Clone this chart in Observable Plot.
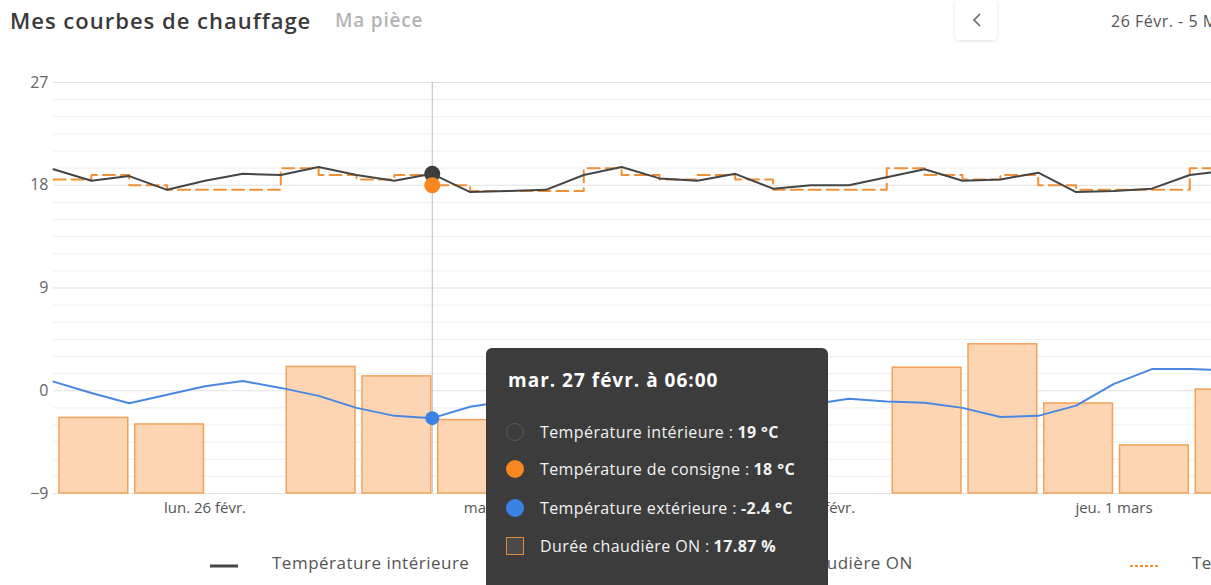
<!DOCTYPE html>
<html><head><meta charset="utf-8">
<script src="https://cdn.jsdelivr.net/npm/d3@7"></script>
<script src="https://cdn.jsdelivr.net/npm/@observablehq/plot@0.6"></script>
<style>
html,body{margin:0;padding:0;background:#fff;overflow:hidden;width:1211px;height:585px;}
body{position:relative;font-family:"Open Sans",sans-serif;}
#title{position:absolute;left:10px;top:5px;font-size:22px;font-weight:600;color:#3a3a3a;white-space:nowrap;letter-spacing:1px;}
#title span{position:absolute;left:325px;top:2px;color:#b3b3b3;font-size:19px;letter-spacing:0.8px;}
#btn{position:absolute;left:955px;top:0px;width:42px;height:40px;background:#fff;border-radius:4px;box-shadow:0 1px 4px rgba(0,0,0,0.12);}
#range{position:absolute;left:1111px;top:10px;font-size:16px;color:#555;white-space:nowrap;letter-spacing:0.5px;}
#chart{position:absolute;left:0;top:62px;}
#chart svg{max-width:none !important;}
#tip{position:absolute;left:486px;top:348px;width:342px;height:260px;background:#3c3c3c;border-radius:6px;color:#f2f2f2;}
#tip .h{position:absolute;left:22px;top:19px;font-size:19px;font-weight:700;color:#fff;white-space:nowrap;letter-spacing:1px;}
#tip .row{position:absolute;left:20px;height:22px;font-size:16px;white-space:nowrap;display:flex;align-items:center;letter-spacing:0.4px;}
#tip .row i{display:inline-block;width:18px;height:18px;border-radius:50%;margin-right:16px;box-sizing:border-box;}
#tip .row b{font-weight:700;margin-left:4px;}
.leg{position:absolute;top:549px;font-size:17px;color:#555;white-space:nowrap;display:flex;align-items:center;height:26px;letter-spacing:0.5px;}
.leg .sym{display:inline-block;width:28px;margin-right:34px;}
</style>
</head><body>
<div id="title">Mes courbes de chauffage<span>Ma pièce</span></div>
<div id="btn"><svg width="42" height="40"><polyline points="25,14 19,20 25,26" fill="none" stroke="#666" stroke-width="1.6"/></svg></div>
<div id="range">26 Févr. - 5 Mars</div>
<div id="chart"></div>
<div id="legend"></div>
<div id="tip"></div>
<script>
// ---- data ----
const times = ["2018-02-26T00:00","2018-02-26T03:00","2018-02-26T06:00","2018-02-26T09:00","2018-02-26T12:00","2018-02-26T15:00","2018-02-26T18:00","2018-02-26T21:00",
"2018-02-27T00:00","2018-02-27T03:00","2018-02-27T06:00","2018-02-27T09:00","2018-02-27T12:00","2018-02-27T15:00","2018-02-27T18:00","2018-02-27T21:00",
"2018-02-28T00:00","2018-02-28T03:00","2018-02-28T06:00","2018-02-28T09:00","2018-02-28T12:00","2018-02-28T15:00","2018-02-28T18:00","2018-02-28T21:00",
"2018-03-01T00:00","2018-03-01T03:00","2018-03-01T06:00","2018-03-01T09:00","2018-03-01T12:00","2018-03-01T15:00","2018-03-01T18:00","2018-03-01T21:00",
"2018-03-02T00:00"];
const interieure = [19.4,18.4,18.8,17.6,18.4,19.0,18.9,19.6,18.9,18.4,19.0,17.4,17.5,17.6,18.9,19.6,18.6,18.4,19.0,17.7,18.0,18.0,18.7,19.4,18.4,18.5,19.1,17.4,17.5,17.7,18.9,19.3,19.0];
const consigne = [18.5,18.9,18.0,17.6,17.6,17.6,19.5,18.9,18.5,18.9,18.0,17.5,17.5,17.5,19.5,18.9,18.5,18.9,18.5,17.6,17.6,17.6,19.5,18.9,18.5,18.9,18.0,17.6,17.6,17.6,19.5,18.9,18.5];
const exterieure = [0.8,-0.2,-1.1,-0.35,0.4,0.85,0.25,-0.45,-1.5,-2.2,-2.4,-1.4,-0.9,-0.6,-0.4,-0.3,-0.5,-0.7,-0.9,-1.0,-1.2,-0.7,-0.95,-1.05,-1.5,-2.3,-2.2,-1.3,0.6,1.9,1.9,1.8,1.5];
const barStart = ["2018-02-26T00:00","2018-02-26T06:00","2018-02-26T12:00","2018-02-26T18:00","2018-02-27T00:00","2018-02-27T06:00","2018-02-27T12:00","2018-02-27T18:00",
"2018-02-28T00:00","2018-02-28T06:00","2018-02-28T12:00","2018-02-28T18:00","2018-03-01T00:00","2018-03-01T06:00","2018-03-01T12:00","2018-03-01T18:00"];
const chaudierePct = [18.4,16.8,0,30.8,28.5,17.87,14,0,22,12,0,30.6,36.3,21.9,11.7,25.3];
const yTicks = [27,18,9,0,-9];
const xTickTimes = ["2018-02-26T12:00","2018-02-27T12:00","2018-02-28T12:00","2018-03-01T12:00"];
const xTickLabels = ["lun. 26 févr.","mar. 27 févr.","mer. 28 févr.","jeu. 1 mars"];
const hoverIndex = 10;   // mar. 27 févr. à 06:00
const hoverBar = 5;

// ---- build ----
const P = s => new Date(s + ":00Z");
const pts = times.map((t,i)=>({t:P(t), int:interieure[i], cons:consigne[i], ext:exterieure[i]}));
const bars = barStart.map((s,i)=>({x1:P(s), x2:d3.utcHour.offset(P(s),6), pct:chaudierePct[i]})).filter(d=>d.pct>0);
const pctToTemp = d3.scaleLinear([0,100],[-9,27]);
const minorGrid = d3.range(-9, 27.001, 1.5).filter(v=>!yTicks.includes(v));
const labelMap = new Map(xTickTimes.map((s,i)=>[+P(s), xTickLabels[i]]));
const hp = pts[hoverIndex];

const plot = Plot.plot({
  width: 1265, height: 461,
  marginLeft: 53, marginRight: 0, marginTop: 20, marginBottom: 30,
  style: {fontFamily: "'Open Sans', sans-serif", background: "transparent", overflow: "visible", maxWidth: "none"},
  x: {type: "utc", domain: [P("2018-02-26T00:00"), P("2018-03-02T00:00")]},
  y: {domain: [-9, 27]},
  marks: [
    Plot.ruleY(minorGrid, {stroke: "#efefef", strokeWidth: 1}),
    Plot.ruleY(yTicks, {stroke: "#e2e2e2", strokeWidth: 1.2}),
    Plot.rect(bars, {x1: "x1", x2: "x2", y1: () => pctToTemp(0), y2: d => pctToTemp(d.pct), fill: "#fdd5b3", stroke: "#f3a25b", strokeWidth: 1.5, insetLeft: 6, insetRight: 1}),
    Plot.ruleX([hp], {x: "t", y1: -9, y2: 27, stroke: "#bdbdbd", strokeWidth: 1}),
    Plot.line(pts, {x: "t", y: "ext", stroke: "#4a87e2", strokeWidth: 2}),
    Plot.line(pts, {x: "t", y: "cons", curve: "step-after", stroke: "#f0913a", strokeWidth: 2, strokeDasharray: "12,6"}),
    Plot.line(pts, {x: "t", y: "int", stroke: "#454545", strokeWidth: 2}),
    Plot.dot([hp], {x: "t", y: "int", r: 8, fill: "#3d3d3d"}),
    Plot.dot([hp], {x: "t", y: "cons", r: 8, fill: "#f7871e"}),
    Plot.dot([hp], {x: "t", y: "ext", r: 7, fill: "#3b82e6"}),
    Plot.axisY({ticks: yTicks, tickSize: 0, tickPadding: 5, fontSize: 16, fill: "#666"}),
    Plot.axisX({ticks: xTickTimes.map(P), tickFormat: d => labelMap.get(+d), tickSize: 0, tickPadding: 9, fontSize: 15, fill: "#555"})
  ]
});
document.getElementById("chart").appendChild(plot);

// legend
const legItems = [
  {left: 210, label: "Température intérieure", sym: '<svg width="28" height="6"><line x1="0" y1="3" x2="28" y2="3" stroke="#444" stroke-width="3"/></svg>'},
  {left: 679, label: "Durée chaudière ON", sym: '<svg width="28" height="18"><rect x="5" y="1" width="16" height="16" fill="#fdd5b3" stroke="#f3a25b" stroke-width="1.5"/></svg>'},
  {left: 1130, label: "Température de consigne", sym: '<svg width="28" height="6"><line x1="0" y1="3" x2="28" y2="3" stroke="#f0913a" stroke-width="2" stroke-dasharray="3,2"/></svg>'}
];
document.getElementById("legend").innerHTML = legItems.map(d =>
  `<div class="leg" style="left:${d.left}px"><span class="sym">${d.sym}</span>${d.label}</div>`).join("");

// tooltip
const fmt = v => String(+v.toFixed(2));
const rows = [
  {top: 73, m: 'border:1.5px solid #5a5a5a;background:transparent', t: "Température intérieure", v: fmt(hp.int) + " °C"},
  {top: 110, m: 'background:#f7871e', t: "Température de consigne", v: fmt(hp.cons) + " °C"},
  {top: 149, m: 'background:#3b82e6', t: "Température extérieure", v: fmt(hp.ext) + " °C"},
  {top: 187, m: 'border-radius:0;border:1.5px solid #e08a3c;background:#4a4a4a', t: "Durée chaudière ON", v: fmt(chaudierePct[hoverBar]) + " %"}
];
document.getElementById("tip").innerHTML =
  `<div class="h">mar. 27 févr. à 06:00</div>` +
  rows.map(r => `<div class="row" style="top:${r.top}px"><i style="${r.m}"></i>${r.t} :<b>${r.v}</b></div>`).join("");
</script>
</body></html>
